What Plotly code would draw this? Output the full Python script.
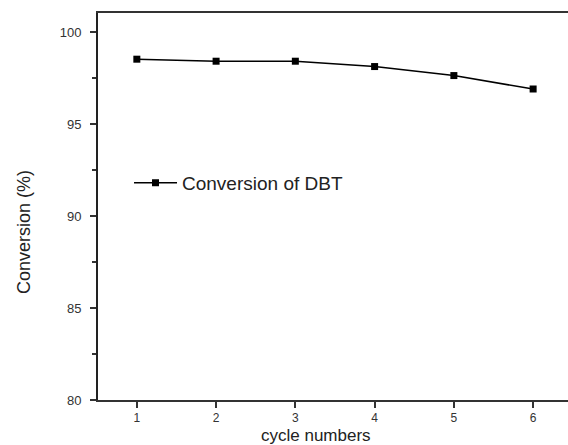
import plotly.graph_objects as go

cycles = [1, 2, 3, 4, 5, 6]
conversion = [98.52, 98.41, 98.41, 98.12, 97.63, 96.9]
series_name = "Conversion of DBT"
y_ticks = [80, 85, 90, 95, 100]
x_title = "cycle numbers"
y_title = "Conversion (%)"

fig = go.Figure()
fig.add_trace(go.Scatter(
    x=cycles, y=conversion, mode="lines+markers", name=series_name,
    line=dict(color="black", width=1.6),
    marker=dict(symbol="square", size=7, color="black"),
    showlegend=True,
))

font = "Arial, Liberation Sans, sans-serif"
fig.update_layout(
    width=568, height=445,
    margin=dict(l=98, r=0, t=13, b=45),
    paper_bgcolor="white", plot_bgcolor="white",
    font=dict(family=font, color="#222", size=13),
    showlegend=True,
    legend=dict(x=0.066, y=0.561, xanchor="left", yanchor="middle",
                itemwidth=43,
                bgcolor="rgba(0,0,0,0)", borderwidth=0,
                font=dict(size=19, family=font, color="#222")),
    xaxis=dict(range=[0.51, 6.44], tickvals=cycles, ticks="outside", ticklen=6,
               tickwidth=1.5, tickcolor="#333", showline=True, linecolor="#333",
               linewidth=1.5, mirror=True, showgrid=False, zeroline=False,
               ticklabelstandoff=0,
               tickfont=dict(size=12, color="#333")),
    yaxis=dict(range=[80, 101.03], tickvals=y_ticks, ticks="outside", ticklen=6,
               tickwidth=1.5, tickcolor="#333", showline=True, linecolor="#222",
               linewidth=2, showgrid=False, zeroline=False,
               ticklabelstandoff=6,
               minor=dict(dtick=2.5, ticks="outside", ticklen=4, tickcolor="#333"),
               tickfont=dict(size=13, color="#333")),
    annotations=[
        dict(text=x_title, xref="paper", yref="paper", x=0.464, y=0,
             xanchor="center", yanchor="middle", yshift=-35, showarrow=False,
             font=dict(size=17, color="#222")),
        dict(text=y_title, xref="paper", yref="paper", x=0, y=0.434,
             xanchor="center", yanchor="middle", xshift=-74, textangle=-90,
             showarrow=False, font=dict(size=18, color="#222")),
    ],
)

fig.write_html("out.html")
